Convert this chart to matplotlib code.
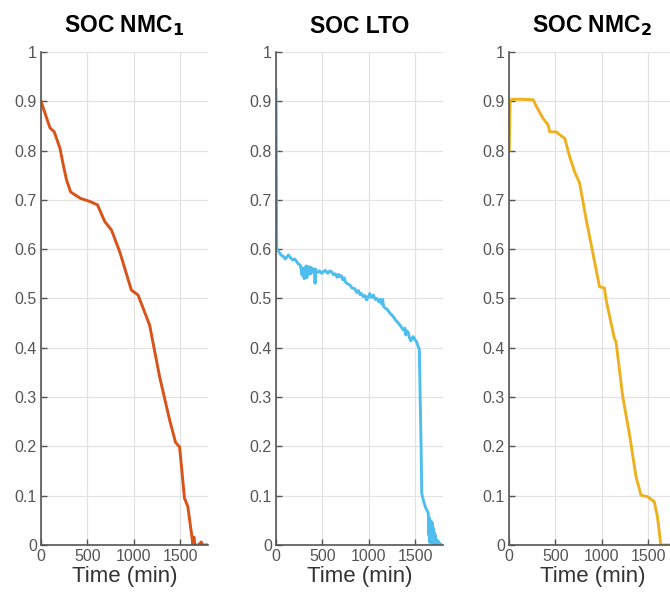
import matplotlib
matplotlib.use("Agg")
import matplotlib.pyplot as plt

plt.rcParams['font.family'] = ['Liberation Sans', 'DejaVu Sans']

# SOC NMC1 (time in min, SOC)
t_nmc1 = [0, 43, 97, 143, 204, 240, 276, 320, 426, 509, 609, 688, 760, 849, 975,
          1047, 1172, 1280, 1387, 1452, 1495, 1548, 1584, 1631, 1640, 1650, 1660,
          1700, 1728, 1745, 1796]
soc_nmc1 = [0.90, 0.876, 0.846, 0.838, 0.805, 0.771, 0.740, 0.716, 0.703, 0.698,
            0.690, 0.656, 0.639, 0.595, 0.517, 0.507, 0.446, 0.341, 0.254, 0.208,
            0.199, 0.095, 0.078, 0.013, 0.0, 0.016, 0.0, 0.0, 0.006, 0.0, 0.0]

# SOC LTO (noisy record, read point by point)
t_lto = [0, 4, 7, 25, 40, 55, 79, 100, 133, 160, 180, 200, 223, 240, 260, 270,
         280, 288, 295, 300, 305, 310, 318, 325, 332, 340, 348, 355, 362, 367,
         375, 382, 390, 400, 410, 416, 421, 426, 430, 450, 470, 490, 510, 530,
         560, 580, 600, 620, 640, 660, 675, 690, 705, 720, 735, 750, 770, 798,
         820, 850, 870, 890, 906, 920, 940, 960, 978, 995, 1010, 1030, 1050,
         1070, 1090, 1110, 1125, 1140, 1150, 1160, 1180, 1200, 1230, 1266, 1290,
         1320, 1345, 1373, 1390, 1400, 1415, 1428, 1440, 1455, 1470, 1481, 1500,
         1517, 1535, 1546, 1555, 1565, 1572, 1589, 1600, 1610, 1620, 1630, 1643,
         1648, 1654, 1660, 1665, 1670, 1675, 1680, 1685, 1690, 1695, 1698, 1702,
         1708, 1712, 1718, 1725, 1740, 1760, 1787]
soc_lto = [0.923, 0.75, 0.602, 0.596, 0.592, 0.588, 0.585, 0.580, 0.588, 0.582,
           0.578, 0.580, 0.575, 0.570, 0.568, 0.560, 0.548, 0.562, 0.545, 0.558,
           0.540, 0.562, 0.546, 0.566, 0.542, 0.565, 0.548, 0.560, 0.552, 0.564,
           0.550, 0.562, 0.556, 0.560, 0.552, 0.558, 0.531, 0.560, 0.556, 0.553,
           0.556, 0.551, 0.554, 0.557, 0.551, 0.556, 0.554, 0.548, 0.550, 0.543,
           0.549, 0.544, 0.546, 0.538, 0.542, 0.533, 0.530, 0.527, 0.521, 0.520,
           0.512, 0.516, 0.508, 0.510, 0.504, 0.506, 0.497, 0.503, 0.510, 0.502,
           0.507, 0.498, 0.500, 0.493, 0.498, 0.489, 0.498, 0.484, 0.480, 0.478,
           0.470, 0.463, 0.456, 0.450, 0.444, 0.436, 0.440, 0.426, 0.434, 0.430,
           0.420, 0.414, 0.420, 0.4225, 0.416, 0.412, 0.402, 0.396, 0.30, 0.20,
           0.105, 0.091, 0.084, 0.078, 0.073, 0.070, 0.064, 0.020, 0.055, 0.005,
           0.050, 0.010, 0.048, 0.004, 0.045, 0.006, 0.035, 0.024, 0.0, 0.025,
           0.002, 0.020, 0.0, 0.010, 0.004, 0.0]

# SOC NMC2
t_nmc2 = [3, 11, 60, 150, 261, 297, 368, 422, 440, 511, 547, 601, 654, 708, 762,
          834, 905, 976, 1030, 1048, 1137, 1155, 1227, 1298, 1370, 1424, 1495,
          1567, 1602, 1638, 1800]
soc_nmc2 = [0.801, 0.903, 0.904, 0.904, 0.903, 0.889, 0.865, 0.852, 0.838, 0.838,
            0.832, 0.825, 0.788, 0.757, 0.734, 0.659, 0.592, 0.524, 0.521, 0.497,
            0.419, 0.412, 0.301, 0.227, 0.139, 0.101, 0.098, 0.088, 0.057, 0.0, 0.0]

titles = ['SOC NMC$_\\mathbf{1}$', 'SOC LTO', 'SOC NMC$_\\mathbf{2}$']
colors = ['#D95319', '#4DBEEE', '#EDB120']
series = [(t_nmc1, soc_nmc1), (t_lto, soc_lto), (t_nmc2, soc_nmc2)]

xticks = [0, 500, 1000, 1500]
yticks = [0, 0.1, 0.2, 0.3, 0.4, 0.5, 0.6, 0.7, 0.8, 0.9, 1]
ytick_labels = ['0', '0.1', '0.2', '0.3', '0.4', '0.5', '0.6', '0.7', '0.8', '0.9', '1']

fig = plt.figure(figsize=(6.7, 5.96), dpi=100)
lefts = [0.0612, 0.412, 0.7597]
axis_col = '#555555'

for i in range(3):
    ax = fig.add_axes([lefts[i], 0.0856, 0.249, 0.8272])
    t, s = series[i]
    ax.plot(t, s, color=colors[i], linewidth=2.1)
    ax.set_xlim(0, 1800)
    ax.set_ylim(0, 1)
    ax.set_xticks(xticks)
    ax.set_yticks(yticks)
    ax.set_yticklabels(ytick_labels)
    ax.grid(True, color='#e3e3e3', linewidth=0.9)
    ax.set_axisbelow(True)
    for side in ['top', 'right']:
        ax.spines[side].set_visible(False)
    for side in ['left', 'bottom']:
        ax.spines[side].set_color(axis_col)
        ax.spines[side].set_linewidth(1.2)
    ax.tick_params(direction='in', length=4, width=1, colors=axis_col,
                   labelsize=11.5, pad=3)
    ax.set_title(titles[i], fontsize=16.5, fontweight='bold', pad=14)
    ax.set_xlabel('Time (min)', fontsize=16, color='#333333', labelpad=1)

fig.savefig('out.png', dpi=100)
